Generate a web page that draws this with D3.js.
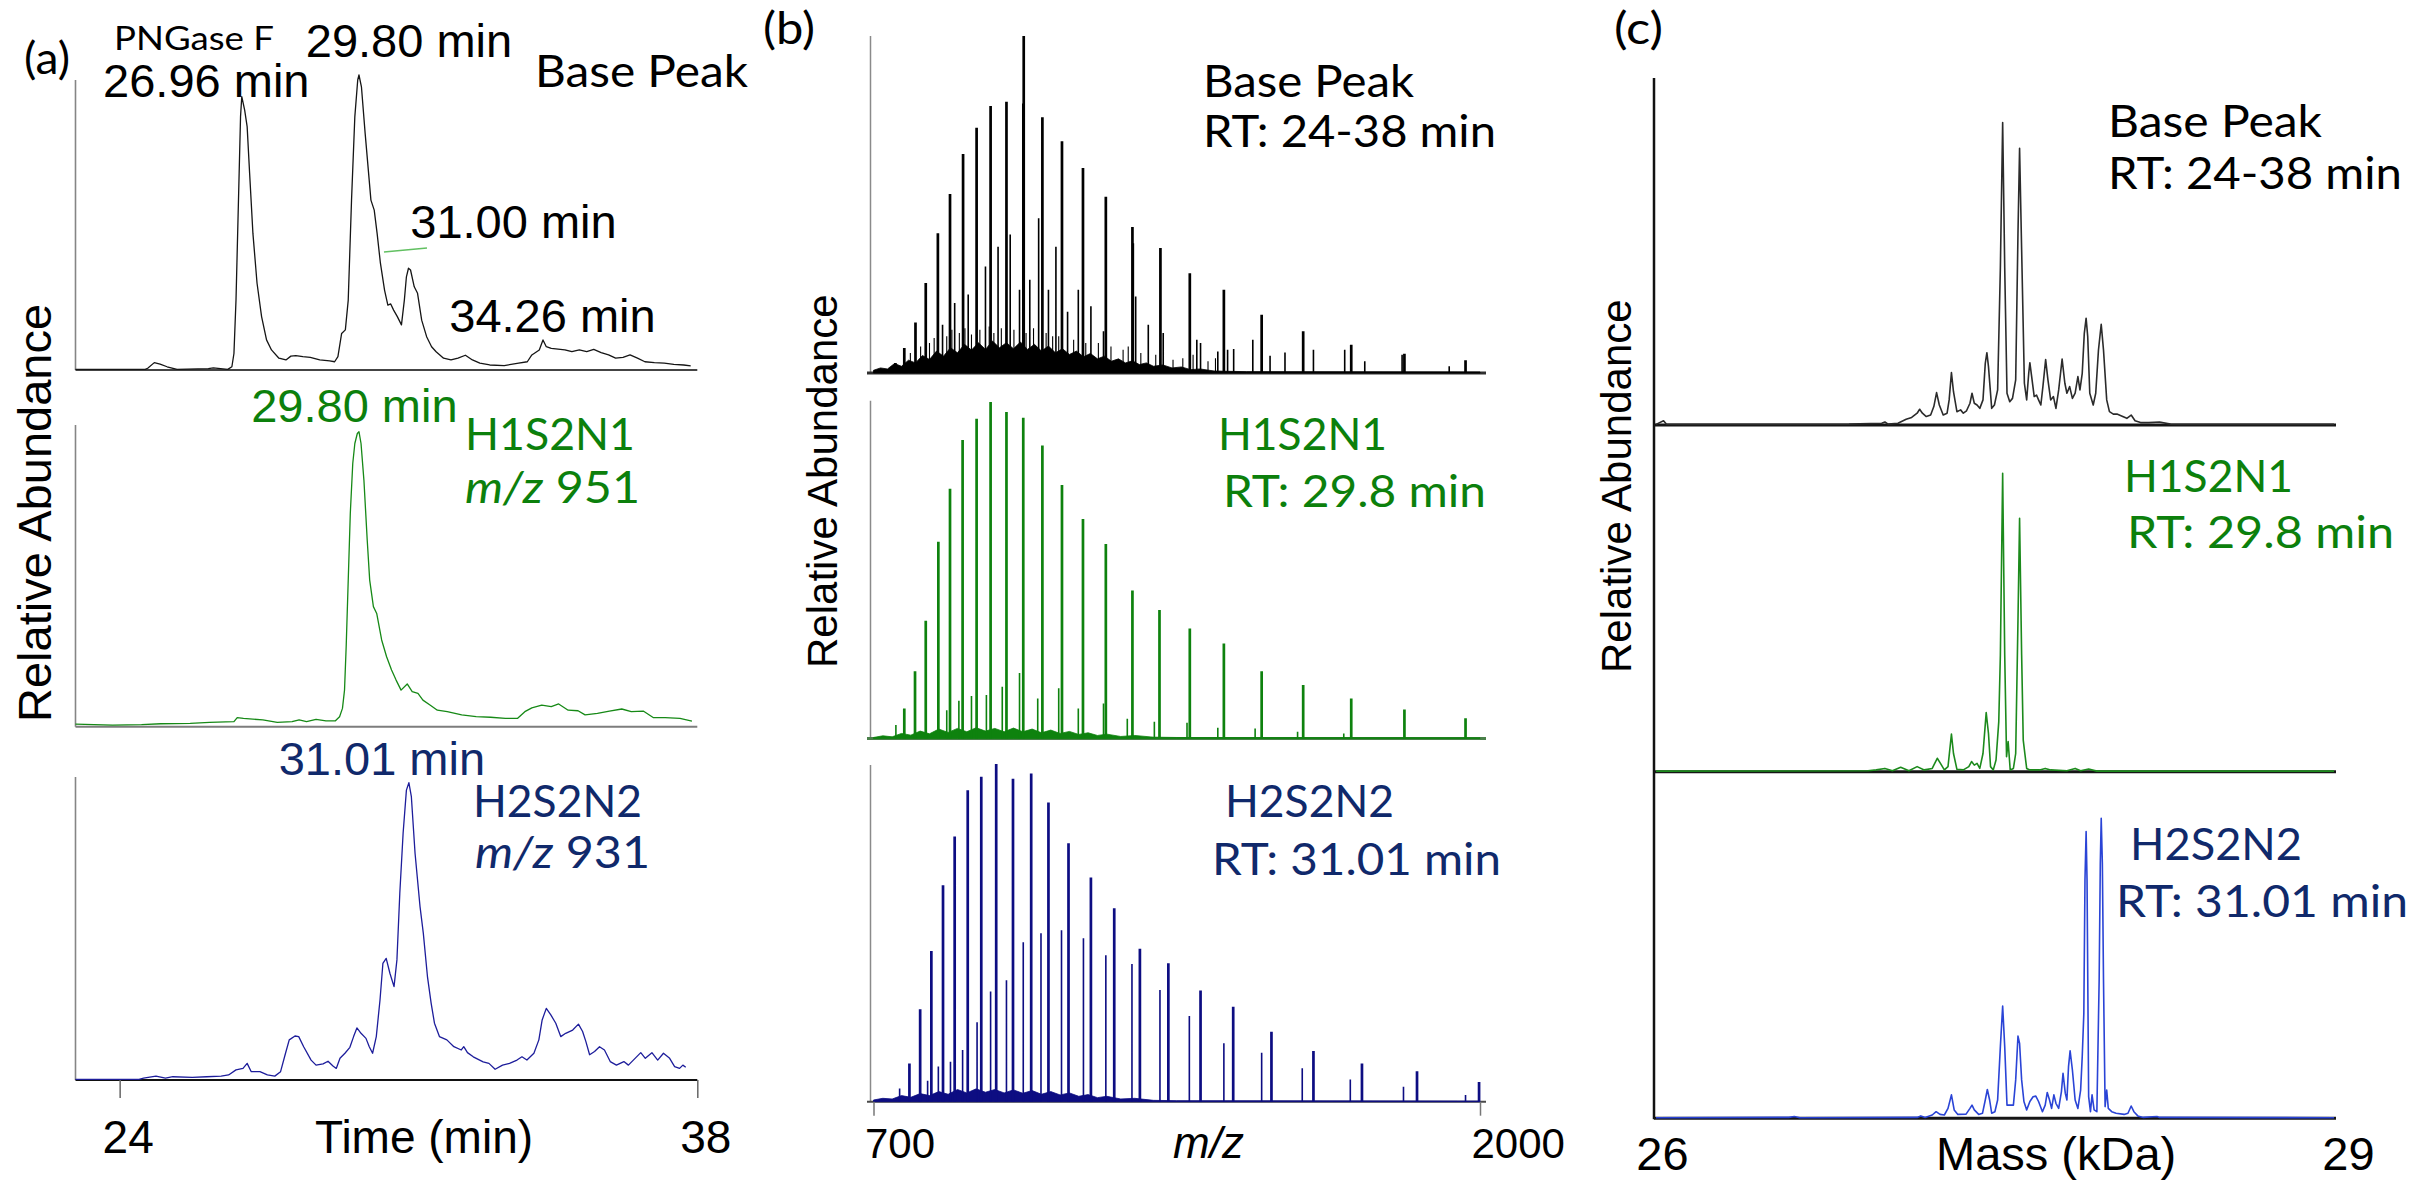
<!DOCTYPE html>
<html>
<head>
<meta charset="utf-8">
<title>Intact glycoprotein LC-MS: chromatograms, spectra and deconvoluted masses</title>
<script src="https://cdn.jsdelivr.net/npm/d3@7/dist/d3.min.js"></script>
<style>
  html, body { margin: 0; padding: 0; background: #ffffff; }
  svg { display: block; }
</style>
</head>
<body>
<svg id="figure" width="2415" height="1182"></svg>
<script>
// ================= data =================
const seriesNames = ["Base Peak", "H1S2N1", "H2S2N2"];
const timeTicks = [24, 38];           // retention time axis (min)
const mzTicks = [700, 2000];          // m/z axis
const massTicks = [26, 29];           // deconvoluted mass axis (kDa)
const rtWindow = [24, 38];            // summed window for base peak spectra
const glycoformRT = [29.8, 31.01];    // RT of H1S2N1 / H2S2N2 spectra
const glycoformMz = [951, 931];       // extracted ion m/z
const basePeakApex = [26.96, 29.80, 31.00, 34.26];

// (a) chromatograms: [time (min), relative abundance %]
const chromBasePeak = [
  [22.93,0.2],[24.62,0.2],[24.68,0.6],[24.84,2.5],[24.98,2.0],[25.15,1.1],[25.39,0.2],[26.15,0.5],[26.27,0.7],
  [26.62,0.2],[26.72,1.1],[26.77,5.6],[26.82,23.7],[26.88,57.6],[26.93,85.9],[26.96,92.7],[27.03,88.1],[27.09,82.5],
  [27.15,66.7],[27.23,46.3],[27.33,29.4],[27.44,18.1],[27.56,10.2],[27.68,6.8],[27.86,4.0],[28.03,3.4],[28.15,4.7],
  [28.27,4.9],[28.44,4.5],[28.62,4.3],[28.85,3.4],[29.09,3.1],[29.21,2.8],[29.29,4.5],[29.38,12.4],[29.47,13.6],
  [29.54,23.7],[29.62,57.6],[29.70,85.9],[29.77,98.3],[29.80,100],[29.86,96.0],[29.95,80.2],[30.09,57.6],[30.17,54.2],
  [30.24,46.3],[30.32,36.2],[30.42,27.1],[30.50,22.0],[30.57,22.4],[30.64,20.3],[30.73,18.1],[30.83,15.3],[30.90,23.7],
  [30.95,31.6],[31.00,34.5],[31.05,33.9],[31.14,28.2],[31.22,26.0],[31.32,16.9],[31.44,11.3],[31.56,7.9],[31.67,6.2],
  [31.85,4.0],[32.03,3.4],[32.20,4.0],[32.38,5.0],[32.55,3.4],[32.73,2.3],[32.97,1.7],[33.32,1.5],[33.67,2.3],
  [33.88,2.8],[33.99,5.1],[34.17,6.8],[34.26,10.2],[34.34,7.9],[34.46,7.3],[34.79,6.8],[34.96,6.2],[35.14,6.8],
  [35.32,6.2],[35.49,7.0],[35.67,5.9],[35.85,5.1],[36.02,4.0],[36.20,4.3],[36.37,5.1],[36.55,4.0],[36.73,2.8],
  [36.96,2.5],[37.20,2.3],[37.43,1.9],[37.67,1.7],[37.84,1.4]
];
const chromH1S2N1 = [
  [22.93,0.9],[23.83,0.5],[24.53,0.7],[25.00,1.0],[25.71,1.1],[26.18,1.5],[26.77,1.7],[26.85,3.1],[27.00,2.8],
  [27.47,2.3],[27.82,1.5],[28.18,1.7],[28.35,2.3],[28.53,1.7],[28.76,2.5],[29.00,2.0],[29.23,2.0],[29.33,3.4],
  [29.40,6.2],[29.45,12.4],[29.49,27.1],[29.54,49.7],[29.59,72.3],[29.65,89.3],[29.70,96.0],[29.76,99.4],[29.80,100],
  [29.85,96.0],[29.92,83.6],[30.00,63.3],[30.06,49.7],[30.15,40.7],[30.23,38.4],[30.35,29.4],[30.47,23.7],[30.59,19.2],
  [30.70,15.8],[30.82,12.4],[30.97,14.5],[31.09,11.9],[31.23,11.3],[31.35,9.0],[31.53,7.3],[31.70,5.6],[31.94,5.1],
  [32.29,4.0],[32.64,3.4],[32.99,3.2],[33.35,2.8],[33.64,2.8],[33.82,5.1],[33.99,6.4],[34.23,7.3],[34.46,6.8],
  [34.64,7.7],[34.87,5.6],[35.11,5.4],[35.28,4.0],[35.58,4.5],[35.87,5.3],[36.17,6.0],[36.40,5.1],[36.69,5.3],
  [36.93,3.1],[37.22,3.1],[37.58,2.8],[37.87,1.9]
];
const chromH2S2N2 = [
  [22.93,0.2],[24.47,0.2],[24.58,0.6],[24.88,1.3],[25.11,0.6],[25.29,1.1],[25.76,0.9],[26.11,1.1],[26.46,1.3],
  [26.64,1.7],[26.82,3.4],[26.99,3.9],[27.09,5.6],[27.19,2.8],[27.40,2.8],[27.58,1.7],[27.76,1.3],[27.90,2.8],
  [28.02,9.0],[28.11,13.5],[28.25,14.8],[28.34,14.6],[28.46,11.2],[28.64,6.7],[28.76,5.0],[28.93,5.4],[29.05,6.3],
  [29.17,4.7],[29.25,3.9],[29.34,7.3],[29.46,9.0],[29.58,11.0],[29.67,14.6],[29.75,17.5],[29.85,15.7],[29.97,14.0],
  [30.05,11.2],[30.13,9.0],[30.22,14.6],[30.31,26.9],[30.38,39.2],[30.46,40.9],[30.55,35.9],[30.65,31.4],[30.72,40.4],
  [30.79,62.8],[30.87,83.0],[30.95,97.5],[31.01,100],[31.07,95.3],[31.16,76.2],[31.28,58.3],[31.36,49.3],[31.46,34.8],
  [31.55,25.8],[31.63,19.1],[31.75,14.6],[31.93,13.5],[32.10,11.2],[32.28,10.1],[32.34,11.2],[32.43,9.2],[32.57,7.8],
  [32.81,6.1],[32.95,5.6],[33.10,3.6],[33.28,5.0],[33.45,5.6],[33.63,6.7],[33.75,7.8],[33.87,6.7],[34.04,9.0],
  [34.16,13.5],[34.24,20.2],[34.34,24.1],[34.45,21.9],[34.57,19.1],[34.69,14.6],[34.81,15.7],[34.98,16.8],[35.12,18.8],
  [35.22,16.3],[35.30,12.9],[35.39,8.5],[35.51,9.6],[35.63,11.2],[35.75,10.1],[35.89,6.2],[36.04,5.0],[36.22,6.2],
  [36.33,5.0],[36.45,6.7],[36.63,9.2],[36.74,7.3],[36.90,9.2],[37.04,6.7],[37.18,9.0],[37.33,7.3],[37.45,4.5],
  [37.57,3.9],[37.65,5.0],[37.72,4.3]
];

// (b) mass spectra: [m/z, relative abundance %]
const bpSpecMain = [
  [747,3.0],[766,7.4],[790,15.0],[812,26.7],[838,41.5],[864,53.1],[892,65.0],[921,72.8],[951,79.2],[985,80.5],
  [1022,100],[1062,75.9],[1104,68.8],[1149,60.8],[1198,52.3],[1255,43.3],[1315,37.1],[1378,29.6],[1451,24.7],
  [1532,17.3],[1621,12.4],[1724,8.4],[1838,5.7],[1969,3.8]
];
const bpSpecMinor = [
  [848,14.3],[874,20.8],[903,23.3],[940,31.6],[967,37.5],[993,41.1],[1013,24.7],[1020,80.0],[1035,27.7],[1054,45.9],
  [1075,24.7],[1091,37.5],[1116,18.2],[1139,24.7],[1166,19.8],[1193,12.4],[1257,38.5],[1262,22.7],[1289,14.3],
  [1321,11.9],[1393,9.9],[1401,8.9],[1438,6.4],[1459,6.9],[1472,7.1],[1513,9.9],[1550,5.1],[1582,6.1],[1643,6.9],
  [1710,6.9],[1753,3.5],[1833,5.4],[1934,2.0]
];
const bpSpecNoise = [
  [779,5.9],[801,7.9],[820,8.9],[830,10.4],[857,10.9],[868,12.8],[884,11.9],[896,13.3],[910,11.4],[928,12.8],
  [948,13.8],[958,11.9],[974,13.3],[1001,12.8],[1027,11.9],[1043,13.3],[1070,11.9],[1084,10.9],[1097,10.9],
  [1129,9.9],[1155,8.9],[1182,8.9],[1209,7.9],[1235,6.9],[1246,7.9],[1273,5.9],[1305,5.4],[1342,3.9],[1363,4.4],
  [1385,5.4],[1417,3.5],[1433,4.4]
];
const bpSpecFloor = [
  [700,0.8],[715,1.5],[730,1.2],[745,2.8],[760,2.0],[775,3.8],[790,3.0],[805,5.2],[820,4.0],[835,6.5],[850,5.0],
  [865,7.5],[880,6.0],[895,8.5],[910,6.8],[925,9.0],[940,7.0],[955,9.5],[970,7.5],[985,9.0],[1000,7.2],[1015,9.2],
  [1030,7.0],[1045,8.5],[1060,6.5],[1075,8.0],[1090,6.0],[1105,7.2],[1120,5.5],[1135,6.5],[1150,4.8],[1165,5.8],
  [1180,4.2],[1195,5.0],[1210,3.5],[1225,4.2],[1240,3.0],[1255,3.6],[1270,2.5],[1285,3.0],[1300,2.0],[1320,2.4],
  [1340,1.5],[1360,1.8],[1380,1.0],[1400,1.2],[1430,0.6],[1460,0.5],[1500,0.4],[2000,0.3]
];
const h1SpecMain = [
  [766,8.9],[789,20.0],[812,35.0],[839,58.5],[864,74.2],[891,88.7],[921,95.0],[951,100],[985,97.0],[1021,95.3],
  [1062,87.1],[1104,75.3],[1149,65.2],[1198,57.8],[1255,44.0],[1313,38.2],[1378,32.7],[1451,28.2],[1532,20.0],
  [1621,15.9],[1724,11.9],[1838,8.6],[1969,6.0]
];
const h1SpecMinor = [
  [748,4.0],[857,8.4],[883,11.2],[910,12.6],[942,12.9],[976,15.4],[1013,19.5],[1052,11.9],[1097,14.9],[1139,8.9],
  [1193,10.4],[1244,5.9],[1302,5.0],[1372,4.7],[1438,3.2],[1518,3.0],[1609,2.0],[1708,1.5]
];
const h1SpecFloor = [
  [700,0.3],[720,0.8],[740,0.5],[760,1.5],[780,1.0],[800,2.2],[820,1.4],[840,2.8],[860,1.8],[880,3.0],[900,2.0],
  [920,3.2],[940,2.2],[960,3.0],[980,2.0],[1000,3.1],[1020,2.0],[1040,2.8],[1060,1.7],[1080,2.5],[1100,1.5],
  [1120,2.1],[1140,1.2],[1160,1.7],[1180,0.9],[1200,1.3],[1230,0.6],[1260,0.9],[1300,0.4],[1350,0.3],[2000,0.2]
];
const h2SpecMain = [
  [777,11.3],[800,27.4],[824,44.6],[849,64.1],[874,78.5],[902,92.2],[931,96.2],[963,100],[999,95.6],[1038,97.2],
  [1075,88.6],[1118,76.5],[1166,66.4],[1216,57.3],[1271,45.3],[1332,41.0],[1401,32.9],[1471,28.1],[1553,20.7],
  [1643,15.0],[1747,11.3],[1865,9.0],[1998,5.8]
];
const h2SpecMinor = [
  [756,3.9],[816,6.2],[839,10.4],[865,11.8],[891,15.3],[922,23.5],[951,32.6],[985,36.0],[1021,47.2],[1059,49.9],
  [1103,50.8],[1150,48.4],[1198,43.4],[1254,40.8],[1314,33.1],[1377,25.4],[1451,17.3],[1532,14.5],[1619,9.9],
  [1722,6.6],[1836,4.4],[1969,2.0]
];
const h2SpecFloor = [
  [700,0.5],[720,1.0],[740,0.8],[760,1.8],[780,1.3],[800,2.4],[820,1.8],[840,3.0],[860,2.2],[880,3.6],[900,2.6],
  [920,3.8],[940,2.8],[960,3.6],[980,2.6],[1000,3.5],[1020,2.5],[1040,3.3],[1060,2.2],[1080,3.0],[1100,2.0],
  [1120,2.6],[1140,1.6],[1160,2.1],[1180,1.2],[1200,1.6],[1230,0.8],[1260,1.0],[1300,0.4],[1350,0.3],[2000,0.2]
];

// (c) deconvoluted spectra: [mass (kDa), relative abundance %]
const massBasePeak = [
  [26.0,0.2],[26.033,1.4],[26.045,0.3],[26.128,0.2],[26.534,0.2],[26.844,0.3],[26.987,0.6],[27.001,1.0],[27.015,0.3],
  [27.058,0.6],[27.094,1.9],[27.118,2.5],[27.142,3.9],[27.153,5.2],[27.165,3.9],[27.182,2.8],[27.201,3.3],[27.215,6.1],
  [27.227,10.7],[27.239,6.6],[27.256,3.3],[27.273,3.9],[27.282,8.3],[27.292,17.3],[27.301,11.0],[27.316,4.4],[27.332,5.0],
  [27.344,3.9],[27.358,4.7],[27.373,7.2],[27.382,10.5],[27.392,7.2],[27.404,6.6],[27.416,5.5],[27.430,8.3],[27.440,20.4],
  [27.447,23.9],[27.454,19.3],[27.468,5.5],[27.480,6.6],[27.494,11.6],[27.506,52.0],[27.516,100],[27.525,52.0],[27.535,10.5],
  [27.547,7.7],[27.559,8.8],[27.573,14.9],[27.583,63.4],[27.590,91.5],[27.599,57.9],[27.611,13.8],[27.621,8.3],[27.630,17.1],
  [27.635,20.6],[27.642,16.5],[27.654,9.4],[27.664,9.9],[27.673,8.3],[27.683,6.6],[27.692,12.7],[27.704,21.6],[27.714,14.9],
  [27.726,8.3],[27.738,9.4],[27.749,5.5],[27.761,11.6],[27.776,21.8],[27.788,13.8],[27.797,10.5],[27.809,12.7],[27.821,8.8],
  [27.833,10.5],[27.845,16.0],[27.854,11.6],[27.864,17.1],[27.873,30.3],[27.881,35.3],[27.888,29.2],[27.897,10.5],[27.912,6.6],
  [27.923,10.5],[27.935,24.8],[27.947,33.3],[27.957,24.8],[27.971,8.3],[27.983,4.4],[28.000,3.6],[28.016,3.6],[28.036,3.0],
  [28.059,2.2],[28.078,3.3],[28.095,1.4],[28.119,0.8],[28.155,0.8],[28.202,1.0],[28.250,0.3],[28.298,0.2],[28.965,0.2]
];
const massH1S2N1 = [
  [26.0,0.2],[26.927,0.3],[26.963,0.6],[27.001,1.1],[27.034,0.3],[27.070,1.5],[27.106,0.3],[27.142,1.7],[27.173,0.6],
  [27.208,1.1],[27.230,4.5],[27.244,2.8],[27.261,0.6],[27.277,1.7],[27.292,12.6],[27.301,6.1],[27.316,0.8],[27.344,0.6],
  [27.368,1.7],[27.380,3.4],[27.392,2.2],[27.404,2.8],[27.416,1.1],[27.430,6.1],[27.444,19.8],[27.454,12.8],[27.463,1.7],
  [27.475,0.6],[27.487,3.9],[27.499,16.8],[27.506,39.1],[27.516,100],[27.525,39.1],[27.533,5.0],[27.540,10.1],[27.549,0.6],
  [27.563,1.1],[27.573,6.1],[27.583,50.8],[27.590,84.9],[27.599,39.1],[27.606,10.6],[27.613,6.1],[27.621,1.1],[27.635,0.6],
  [27.678,0.6],[27.702,1.1],[27.726,0.6],[27.797,0.3],[27.833,1.1],[27.857,0.3],[27.892,0.9],[27.928,0.2],[28.965,0.2]
];
const massH2S2N2 = [
  [26.0,0.2],[26.581,0.3],[26.605,0.6],[26.629,0.2],[27.142,0.3],[27.158,0.8],[27.177,0.3],[27.208,1.1],[27.225,2.2],
  [27.242,1.3],[27.261,1.1],[27.277,3.3],[27.292,7.8],[27.304,2.8],[27.320,1.3],[27.356,1.4],[27.373,3.3],[27.382,4.4],
  [27.392,2.8],[27.411,1.3],[27.428,1.7],[27.440,6.1],[27.449,9.6],[27.459,6.1],[27.468,1.7],[27.482,2.2],[27.494,6.1],
  [27.506,23.9],[27.516,37.4],[27.525,23.9],[27.535,4.4],[27.549,4.4],[27.563,4.4],[27.573,12.8],[27.583,27.4],[27.590,25.0],
  [27.599,12.8],[27.609,5.6],[27.621,2.8],[27.635,5.6],[27.649,7.2],[27.661,7.4],[27.673,5.6],[27.690,2.2],[27.702,4.4],
  [27.711,8.6],[27.721,6.1],[27.730,3.3],[27.740,7.8],[27.749,5.0],[27.761,3.3],[27.773,8.9],[27.780,15.0],[27.790,8.3],
  [27.797,6.1],[27.804,17.2],[27.811,22.5],[27.821,16.1],[27.833,6.1],[27.845,3.3],[27.857,9.4],[27.864,20.6],[27.871,35.0],
  [27.876,79.4],[27.881,95.6],[27.885,79.4],[27.892,7.2],[27.900,2.2],[27.907,7.8],[27.916,2.8],[27.928,2.2],[27.938,46.1],
  [27.943,84.9],[27.947,100],[27.952,84.9],[27.957,46.1],[27.964,3.9],[27.971,9.4],[27.978,3.3],[27.993,2.2],[28.012,1.7],
  [28.047,1.3],[28.064,1.7],[28.078,4.1],[28.090,2.2],[28.107,0.8],[28.131,0.3],[28.191,0.6],[28.202,0.3],[28.965,0.2]
];

// ================= styling =================
const ARIAL = "'Liberation Sans', Arial, Helvetica, sans-serif";
const HUMANIST = "Lato, 'Open Sans', 'Noto Sans', sans-serif";
const GREEN_TXT = "#0c800c";
const NAVY_TXT = "#10296b";
const LABEL_SIZE = 45;

const svg = d3.select("#figure");
svg.append("rect").attr("width", 2415).attr("height", 1182).attr("fill", "#fff");

// ---------- helpers ----------
function hline(g, x1, x2, y, color, w) {
  g.append("line").attr("x1", x1).attr("x2", x2).attr("y1", y).attr("y2", y)
    .attr("stroke", color).attr("stroke-width", w);
}
function vline(g, x, y1, y2, color, w) {
  g.append("line").attr("x1", x).attr("x2", x).attr("y1", y1).attr("y2", y2)
    .attr("stroke", color).attr("stroke-width", w);
}
function trace(g, data, x, y, color, w) {
  g.append("path").datum(data)
    .attr("d", d3.line().x(d => x(d[0])).y(d => y(d[1])))
    .attr("fill", "none").attr("stroke", color).attr("stroke-width", w)
    .attr("stroke-linejoin", "round");
}
function sticks(g, data, x, y, color, w) {
  g.append("path")
    .attr("d", data.map(d => `M${x(d[0])},${y(0)}V${y(d[1])}`).join(""))
    .attr("fill", "none").attr("stroke", color).attr("stroke-width", w);
}
function floorArea(g, data, x, y, color, opacity) {
  g.append("path").datum(data)
    .attr("d", d3.area().x(d => x(d[0])).y0(y(0)).y1(d => y(d[1])))
    .attr("fill", color).attr("fill-opacity", opacity)
    .attr("stroke", color).attr("stroke-width", 0.8).attr("stroke-opacity", opacity);
}
// humanist label, optionally with an italic lead-in; fitted to a set width
function hLabel(x, y, size, width, color, parts) {
  const t = svg.append("text").attr("x", x).attr("y", y)
    .attr("font-family", HUMANIST).attr("font-size", size).attr("fill", color)
    .attr("textLength", width).attr("lengthAdjust", "spacingAndGlyphs");
  parts.forEach(p => t.append("tspan").attr("font-style", p[1] ? "italic" : "normal").text(p[0]));
  return t;
}
function aLabel(x, y, size, color, text, anchor, italic) {
  return svg.append("text").attr("x", x).attr("y", y)
    .attr("font-family", ARIAL).attr("font-size", size).attr("fill", color)
    .attr("text-anchor", anchor || "start").attr("font-style", italic ? "italic" : "normal")
    .text(text);
}
function yTitle(x, y, size) {
  svg.append("text").attr("transform", `translate(${x},${y}) rotate(-90)`)
    .attr("font-family", ARIAL).attr("font-size", size).attr("fill", "#000")
    .text("Relative Abundance");
}

// ================= panel (a): chromatograms =================
const gA = svg.append("g");
const xA = d3.scaleLinear().domain([22.93, 38]).range([75.5, 697.3]);
const aRows = [
  { data: chromBasePeak, base: 370, top: 75, axisTop: 80, color: "#151515", baseColor: "#444", baseW: 2.2 },
  { data: chromH1S2N1, base: 726.7, top: 431.7, axisTop: 425, color: "#168916", baseColor: "#7d7d7d", baseW: 2 },
  { data: chromH2S2N2, base: 1080, top: 782.7, axisTop: 777, color: "#1d1d9b", baseColor: "#111", baseW: 2 }
];
aRows.forEach(r => {
  r.y = d3.scaleLinear().domain([0, 100]).range([r.base, r.top]);
  vline(gA, xA.range()[0], r.axisTop, r.base, "#858585", 1.6);
  hline(gA, xA.range()[0], xA.range()[1], r.base, r.baseColor, r.baseW);
  trace(gA, r.data, xA, r.y, r.color, 1.3);
});
const axA = d3.axisBottom(xA).tickValues(timeTicks).tickSize(18).tickSizeOuter(0).tickFormat(d3.format("d"));
const gAx = gA.append("g").attr("transform", `translate(0,${aRows[2].base})`).call(axA);
gAx.select(".domain").remove();
gAx.selectAll(".tick line").attr("stroke", "#666").attr("stroke-width", 1.5);
gAx.selectAll(".tick text").attr("y", 73).attr("dy", null).attr("dx", 8)
  .attr("font-size", 46).attr("font-family", ARIAL).attr("fill", "#000");

// apex labels, anchored on the peak they name
const apexLabels = [
  { t: basePeakApex[0], dx: -35.5, y: 97, color: "#000" },
  { t: basePeakApex[1], dx: 50, y: 57, color: "#000" },
  { t: basePeakApex[2], dx: 105, y: 238, color: "#000" },
  { t: basePeakApex[3], dx: 9.5, y: 332, color: "#000" },
  { t: glycoformRT[0], dx: -4.6, y: 422, color: GREEN_TXT },
  { t: glycoformRT[1], dx: -27, y: 775, color: NAVY_TXT }
];
apexLabels.forEach(l => aLabel(xA(l.t) + l.dx, l.y, 47, l.color, l.t.toFixed(2) + " min", "middle"));
// short leader next to the 31.00 min shoulder
gA.append("line").attr("x1", xA(basePeakApex[2]) - 24.5).attr("y1", 252)
  .attr("x2", xA(basePeakApex[2]) + 18.5).attr("y2", 248)
  .attr("stroke", "#62c062").attr("stroke-width", 1.5);

hLabel(24, 74, 44, 46, "#000", [["(a)"]]);
hLabel(114, 50, 32, 160, "#000", [["PNGase F"]]);
hLabel(535, 87, LABEL_SIZE, 213, "#000", [[seriesNames[0]]]);
hLabel(465, 450, LABEL_SIZE, 170, GREEN_TXT, [[seriesNames[1]]]);
hLabel(465, 503, LABEL_SIZE, 175, GREEN_TXT, [["m/z", true], [" " + glycoformMz[0]]]);
hLabel(473, 817, LABEL_SIZE, 169, NAVY_TXT, [[seriesNames[2]]]);
hLabel(475, 868, LABEL_SIZE, 175, NAVY_TXT, [["m/z", true], [" " + glycoformMz[1]]]);
yTitle(51, 722, 47);
aLabel(315, 1153, 46, "#000", "Time (min)");

// ================= panel (b): mass spectra =================
const gB = svg.append("g");
const xB = d3.scaleLinear().domain([mzTicks[0], mzTicks[1]]).range([873.5, 1480]);
const bAxisX = 870.5, bBaseStart = 867, bBaseEnd = 1486;
const bRows = [
  { main: bpSpecMain, minor: bpSpecMinor, noise: bpSpecNoise, floor: bpSpecFloor, base: 373, top: 36, axisTop: 36,
    color: "#000", floorOp: 1, baseColor: "#303030", baseW: 3 },
  { main: h1SpecMain, minor: h1SpecMinor, noise: [], floor: h1SpecFloor, base: 738.5, top: 402, axisTop: 400.7,
    color: "#0e820e", floorOp: 1, baseColor: "#4a804a", baseW: 3 },
  { main: h2SpecMain, minor: h2SpecMinor, noise: [], floor: h2SpecFloor, base: 1101.7, top: 764, axisTop: 765,
    color: "#0d0d82", floorOp: 1, baseColor: "#4a4a4a", baseW: 2 }
];
bRows.forEach(r => {
  r.y = d3.scaleLinear().domain([0, 100]).range([r.base, r.top]);
  vline(gB, bAxisX, r.axisTop, r.base, "#8a8a8a", 1.5);
  hline(gB, bBaseStart, bBaseEnd, r.base, r.baseColor, r.baseW);
  floorArea(gB, r.floor, xB, r.y, r.color, r.floorOp);
  sticks(gB, r.noise, xB, r.y, r.color, 1.1);
  sticks(gB, r.minor, xB, r.y, r.color, 1.6);
  sticks(gB, r.main, xB, r.y, r.color, 2.7);
});
const axB = d3.axisBottom(xB).tickValues(mzTicks).tickSize(14).tickSizeOuter(0).tickFormat(d3.format("d"));
const gBx = gB.append("g").attr("transform", `translate(0,${bRows[2].base})`).call(axB);
gBx.select(".domain").remove();
gBx.selectAll(".tick line").attr("stroke", "#777").attr("stroke-width", 1.5);
gBx.selectAll(".tick text").attr("y", 56).attr("dy", null).attr("x", -9).attr("text-anchor", "start")
  .attr("font-size", 42).attr("font-family", ARIAL).attr("fill", "#000");

hLabel(763, 44, 44, 52, "#000", [["(b)"]]);
hLabel(1203, 97, LABEL_SIZE, 211, "#000", [[seriesNames[0]]]);
hLabel(1203, 147, LABEL_SIZE, 293, "#000", [[`RT: ${rtWindow[0]}-${rtWindow[1]} min`]]);
hLabel(1218, 450, LABEL_SIZE, 169, GREEN_TXT, [[seriesNames[1]]]);
hLabel(1223, 507, LABEL_SIZE, 263, GREEN_TXT, [[`RT: ${glycoformRT[0]} min`]]);
hLabel(1225, 817, LABEL_SIZE, 169, NAVY_TXT, [[seriesNames[2]]]);
hLabel(1212, 875, LABEL_SIZE, 289, NAVY_TXT, [[`RT: ${glycoformRT[1]} min`]]);
yTitle(837, 668, 42);
aLabel(1173, 1158, 44, "#000", "m/z", "start", true);

// ================= panel (c): deconvoluted masses =================
const gC = svg.append("g");
const xC = d3.scaleLinear().domain([massTicks[0], massTicks[1]]).range([1656, 2342]);
const cAxisX = 1654, cBaseEnd = 2336;
const cRows = [
  { data: massBasePeak, base: 425, top: 122.5, color: "#2b2b2b" },
  { data: massH1S2N1, base: 771.7, top: 473.3, color: "#1c8a1c" },
  { data: massH2S2N2, base: 1118.3, top: 818.3, color: "#2a44d6" }
];
vline(gC, cAxisX, 78, cRows[2].base + 1, "#111", 2.5);
cRows.forEach(r => {
  r.y = d3.scaleLinear().domain([0, 100]).range([r.base, r.top]);
  hline(gC, cAxisX, cBaseEnd, r.base, "#151515", 3);
  trace(gC, r.data, xC, r.y, r.color, 1.6);
});
const axC = d3.axisBottom(xC).tickValues(massTicks).tickSize(0).tickSizeOuter(0).tickFormat(d3.format("d"));
const gCx = gC.append("g").attr("transform", `translate(0,${cRows[2].base})`).call(axC);
gCx.select(".domain").remove();
gCx.selectAll(".tick text").attr("y", 52).attr("dy", null).attr("dx", 6)
  .attr("font-size", 47).attr("font-family", ARIAL).attr("fill", "#000");

hLabel(1614, 44, 44, 49, "#000", [["(c)"]]);
hLabel(2108, 137, LABEL_SIZE, 214, "#000", [[seriesNames[0]]]);
hLabel(2108, 189, LABEL_SIZE, 294, "#000", [[`RT: ${rtWindow[0]}-${rtWindow[1]} min`]]);
hLabel(2124, 492, LABEL_SIZE, 169, GREEN_TXT, [[seriesNames[1]]]);
hLabel(2127, 548, LABEL_SIZE, 267, GREEN_TXT, [[`RT: ${glycoformRT[0]} min`]]);
hLabel(2130, 860, LABEL_SIZE, 172, NAVY_TXT, [[seriesNames[2]]]);
hLabel(2116, 917, LABEL_SIZE, 292, NAVY_TXT, [[`RT: ${glycoformRT[1]} min`]]);
yTitle(1631, 673, 42);
aLabel(1936, 1170, 47, "#000", "Mass (kDa)");
</script>
</body>
</html>
